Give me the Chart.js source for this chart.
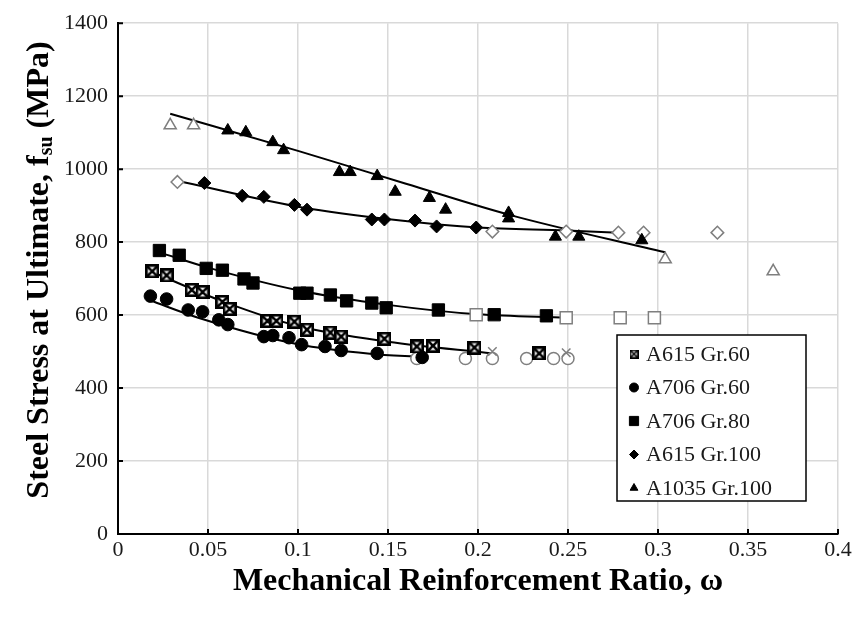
<!DOCTYPE html>
<html>
<head>
<meta charset="utf-8">
<script src="https://cdn.jsdelivr.net/npm/chart.js@4.4.1/dist/chart.umd.min.js"></script>
<style>
  html, body { margin: 0; padding: 0; background: #fff; }
  canvas { display: block; }
</style>
</head>
<body>
<canvas id="ratioChart" width="861" height="618"></canvas>
<script>
// axis ticks
const xTickValues = [0, 0.05, 0.1, 0.15, 0.2, 0.25, 0.3, 0.35, 0.4]
const xTickLabels = ['0', '0.05', '0.1', '0.15', '0.2', '0.25', '0.3', '0.35', '0.4']
const yTickValues = [0, 200, 400, 600, 800, 1000, 1200, 1400]
const yTickLabels = ['0', '200', '400', '600', '800', '1000', '1200', '1400']

const seriesNames = ['A615 Gr.60', 'A706 Gr.60', 'A706 Gr.80', 'A615 Gr.100', 'A1035 Gr.100']

// A615 Gr.60
const a615g60W = [0.019, 0.027, 0.041, 0.047, 0.058, 0.062, 0.083, 0.088, 0.098, 0.105, 0.118, 0.124, 0.148, 0.166, 0.175, 0.198, 0.234]
const a615g60F = [720, 709, 669, 663, 636, 617, 584, 584, 582, 560, 552, 541, 535, 514, 516, 511, 495]
const a615g60OutW = [0.208, 0.249]
const a615g60OutF = [500, 497]
const a615g60FitW = [0.019, 0.06, 0.1, 0.15, 0.208]
const a615g60FitF = [718, 634, 570, 527, 495]

// A706 Gr.60
const a706g60W = [0.018, 0.027, 0.039, 0.047, 0.056, 0.061, 0.081, 0.086, 0.095, 0.102, 0.115, 0.124, 0.144, 0.169]
const a706g60F = [652, 644, 614, 609, 587, 574, 541, 544, 538, 519, 514, 503, 495, 484]
const a706g60OutW = [0.166, 0.193, 0.208, 0.227, 0.242, 0.25]
const a706g60OutF = [481, 481, 481, 481, 481, 481]
const a706g60FitW = [0.018, 0.045, 0.1, 0.14, 0.169]
const a706g60FitF = [640, 592, 520, 494, 485]

// A706 Gr.80
const a706g80W = [0.023, 0.034, 0.049, 0.058, 0.07, 0.075, 0.101, 0.105, 0.118, 0.127, 0.141, 0.149, 0.178, 0.209, 0.238]
const a706g80F = [777, 764, 728, 723, 699, 688, 660, 660, 655, 639, 633, 620, 614, 601, 598]
const a706g80OutW = [0.199, 0.249, 0.279, 0.298]
const a706g80OutF = [601, 593, 593, 593]
const a706g80FitW = [0.023, 0.05, 0.1, 0.15, 0.2, 0.249]
const a706g80FitF = [772, 730, 668, 628, 602, 593]

// A615 Gr.100
const a615g100W = [0.048, 0.069, 0.081, 0.098, 0.105, 0.141, 0.148, 0.165, 0.177, 0.199]
const a615g100F = [962, 927, 924, 902, 889, 862, 862, 859, 843, 840]
const a615g100OutW = [0.033, 0.208, 0.249, 0.278, 0.292, 0.333]
const a615g100OutF = [965, 829, 829, 826, 826, 826]
const a615g100FitW = [0.033, 0.1, 0.157, 0.2, 0.249, 0.278]
const a615g100FitF = [968, 897, 859, 840, 832, 826]

// A1035 Gr.100
const a1035W = [0.061, 0.071, 0.086, 0.092, 0.123, 0.129, 0.144, 0.154, 0.173, 0.182, 0.217, 0.217, 0.243, 0.256, 0.291]
const a1035F = [1106, 1101, 1074, 1052, 992, 992, 981, 938, 921, 889, 880, 865, 815, 815, 805]
const a1035OutW = [0.029, 0.042, 0.304, 0.364]
const a1035OutF = [1120, 1120, 753, 720]
const a1035FitW = [0.029, 0.1, 0.16, 0.218, 0.304]
const a1035FitF = [1152, 1050, 960, 874, 772]

const zip = (xs, ys) => xs.map((x, i) => ({ x: x, y: ys[i] }))

const serif = "'Liberation Serif', 'Times New Roman', serif"
const textColor = '#1a1a1a'
const openColor = '#7f7f7f'

// boxed-cross marker (square outline with an X through it)
function boxCross(size, lw) {
    const c = document.createElement('canvas')
    c.width = size
    c.height = size
    const g = c.getContext('2d')
    g.fillStyle = '#fff'
    g.fillRect(0, 0, size, size)
    g.strokeStyle = '#000'
    g.lineWidth = lw
    g.strokeRect(lw / 2, lw / 2, size - lw, size - lw)
    g.beginPath()
    g.moveTo(lw / 2, lw / 2)
    g.lineTo(size - lw / 2, size - lw / 2)
    g.moveTo(size - lw / 2, lw / 2)
    g.lineTo(lw / 2, size - lw / 2)
    g.stroke()
    return c
}

const boxCrossBig = boxCross(14, 2.6)
const boxCrossSmall = boxCross(9, 1.6)

function filled(label, data, style, radius) {
    return {
        label: label,
        data: data,
        pointStyle: style,
        pointRadius: radius,
        pointBackgroundColor: '#000',
        pointBorderColor: '#000',
        pointBorderWidth: 1,
        showLine: false,
        order: 1,
    }
}

function hollow(data, style, radius) {
    return {
        label: '',
        data: data,
        pointStyle: style,
        pointRadius: radius,
        pointBackgroundColor: '#fff',
        pointBorderColor: openColor,
        pointBorderWidth: 1.5,
        showLine: false,
        order: 1,
    }
}

function trend(data) {
    return {
        label: '',
        data: data,
        showLine: true,
        borderColor: '#000',
        borderWidth: 2,
        pointRadius: 0,
        cubicInterpolationMode: 'monotone',
        order: 2,
    }
}

const datasets = [
    filled(seriesNames[0], zip(a615g60W, a615g60F), boxCrossBig, 7),
    filled(seriesNames[1], zip(a706g60W, a706g60F), 'circle', 6.3),
    filled(seriesNames[2], zip(a706g80W, a706g80F), 'rect', 8.7),
    filled(seriesNames[3], zip(a615g100W, a615g100F), 'rectRot', 6.5),
    filled(seriesNames[4], zip(a1035W, a1035F), 'triangle', 7),
    hollow(zip(a615g60OutW, a615g60OutF), 'crossRot', 6),
    hollow(zip(a706g60OutW, a706g60OutF), 'circle', 6),
    hollow(zip(a706g80OutW, a706g80OutF), 'rect', 8.5),
    hollow(zip(a615g100OutW, a615g100OutF), 'rectRot', 6.3),
    hollow(zip(a1035OutW, a1035OutF), 'triangle', 7),
    trend(zip(a615g60FitW, a615g60FitF)),
    trend(zip(a706g60FitW, a706g60FitF)),
    trend(zip(a706g80FitW, a706g80FitF)),
    trend(zip(a615g100FitW, a615g100FitF)),
    trend(zip(a1035FitW, a1035FitF)),
]

// short black ticks pointing into the plot
const innerTicks = {
    id: 'innerTicks',
    afterDraw(chart) {
        const { ctx, chartArea, scales } = chart
        ctx.save()
        ctx.strokeStyle = '#000'
        ctx.lineWidth = 2
        ctx.beginPath()
        xTickValues.forEach(v => {
            const px = scales.x.getPixelForValue(v)
            ctx.moveTo(px, chartArea.bottom)
            ctx.lineTo(px, chartArea.bottom - 5)
        })
        yTickValues.forEach(v => {
            const py = scales.y.getPixelForValue(v)
            ctx.moveTo(chartArea.left, py)
            ctx.lineTo(chartArea.left + 5, py)
        })
        ctx.stroke()
        ctx.restore()
    }
}

// bold axis titles, the y one carries a subscript
const axisTitles = {
    id: 'axisTitles',
    afterDraw(chart) {
        const { ctx, chartArea } = chart
        const big = 'bold 32px ' + serif
        const small = 'bold 20px ' + serif
        ctx.save()
        ctx.fillStyle = '#000'
        ctx.textBaseline = 'middle'
        ctx.textAlign = 'center'
        ctx.font = big
        ctx.fillText('Mechanical Reinforcement Ratio, \u03c9', (chartArea.left + chartArea.right) / 2, 582)

        const parts = [
            { t: 'Steel Stress at Ultimate, f', f: big, dy: 0 },
            { t: 'su', f: small, dy: 7 },
            { t: ' (MPa)', f: big, dy: 0 },
        ]
        let total = 0
        parts.forEach(p => { ctx.font = p.f; p.w = ctx.measureText(p.t).width; total += p.w })
        ctx.translate(40, 270)
        ctx.rotate(-Math.PI / 2)
        ctx.textAlign = 'left'
        let x = -total / 2
        parts.forEach(p => {
            ctx.font = p.f
            ctx.fillText(p.t, x, p.dy)
            x += p.w
        })
        ctx.restore()
    }
}

// boxed legend inside the plot
const boxLegend = {
    id: 'boxLegend',
    afterDraw(chart) {
        const { ctx } = chart
        const left = 617, top = 335, right = 806, bottom = 501
        ctx.save()
        ctx.fillStyle = '#fff'
        ctx.fillRect(left, top, right - left, bottom - top)
        ctx.strokeStyle = '#000'
        ctx.lineWidth = 1.5
        ctx.strokeRect(left, top, right - left, bottom - top)

        const marks = [
            { style: boxCrossSmall, r: 5 },
            { style: 'circle', r: 4.5 },
            { style: 'rect', r: 6.5 },
            { style: 'rectRot', r: 4.5 },
            { style: 'triangle', r: 4.5 },
        ]
        ctx.font = '22px ' + serif
        ctx.textBaseline = 'middle'
        ctx.textAlign = 'left'
        seriesNames.forEach((name, i) => {
            const cy = 354 + i * 33.5
            ctx.fillStyle = '#000'
            ctx.strokeStyle = '#000'
            ctx.lineWidth = 1
            Chart.helpers.drawPoint(ctx, { pointStyle: marks[i].style, radius: marks[i].r, borderWidth: 1, rotation: 0 }, 634, cy)
            ctx.fillStyle = textColor
            ctx.fillText(name, 646, cy + 1)
        })
        ctx.restore()
    }
}

const tickFont = { family: serif, size: 22 }

new Chart(document.getElementById('ratioChart').getContext('2d'), {
    type: 'scatter',
    data: { datasets: datasets },
    options: {
        responsive: false,
        animation: false,
        devicePixelRatio: 1,
        layout: { padding: { top: 19, right: 23, left: 0, bottom: 0 } },
        plugins: {
            legend: { display: false },
            tooltip: { enabled: false },
        },
        scales: {
            x: {
                type: 'linear',
                min: 0,
                max: 0.4,
                afterBuildTicks: scale => { scale.ticks = xTickValues.map(v => ({ value: v })) },
                afterFit: scale => { scale.height = 84 },
                ticks: {
                    callback: (value, index) => xTickLabels[index],
                    font: tickFont,
                    color: textColor,
                    padding: 3,
                    maxRotation: 0,
                    autoSkip: false,
                },
                grid: { color: '#d9d9d9', lineWidth: 1.5, drawTicks: false },
                border: { color: '#000', width: 2 },
            },
            y: {
                type: 'linear',
                min: 0,
                max: 1400,
                afterBuildTicks: scale => { scale.ticks = yTickValues.map(v => ({ value: v })) },
                afterFit: scale => { scale.width = 118 },
                ticks: {
                    callback: (value, index) => yTickLabels[index],
                    font: tickFont,
                    color: textColor,
                    padding: 10,
                    autoSkip: false,
                },
                grid: { color: '#d9d9d9', lineWidth: 1.5, drawTicks: false },
                border: { color: '#000', width: 2 },
            },
        },
    },
    plugins: [innerTicks, axisTitles, boxLegend],
})
</script>
</body>
</html>
